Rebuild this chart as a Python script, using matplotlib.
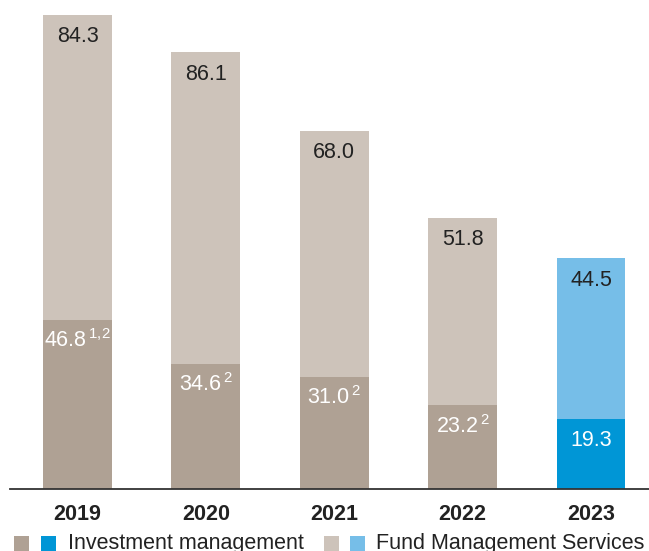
import matplotlib.pyplot as plt
from matplotlib.patches import Rectangle

plt.rcParams['font.family'] = ['Liberation Sans', 'DejaVu Sans']
plt.rcParams['mathtext.fontset'] = 'custom'
plt.rcParams['mathtext.rm'] = 'Liberation Sans'

years = ["2019", "2020", "2021", "2022", "2023"]
bottom_vals = [46.8, 34.6, 31.0, 23.2, 19.3]
top_vals = [84.3, 86.1, 68.0, 51.8, 44.5]
bottom_notes = ["1{,}2", "2", "2", "2", ""]

brown = "#AFA194"
beige = "#CDC3BA"
blue = "#0096D6"
light_blue = "#76BEE8"

bottom_colors = [brown] * 4 + [blue]
top_colors = [beige] * 4 + [light_blue]

fig = plt.figure(figsize=(6.49, 5.51), dpi=100)
ax = fig.add_axes([10 / 649, 1 - 489 / 551, 1 - 10 / 649, 489 / 551])

x = list(range(len(years)))
ax.bar(x, bottom_vals, width=0.537, color=bottom_colors, linewidth=0)
ax.bar(x, top_vals, width=0.537, bottom=bottom_vals, color=top_colors, linewidth=0)

for i in x:
    b = bottom_vals[i]
    t = top_vals[i]
    if bottom_notes[i]:
        lab = "%.1f$^{\\,%s}$" % (b, bottom_notes[i])
    else:
        lab = "%.1f" % b
    ax.annotate(lab, (i, b), xytext=(0, -21), textcoords="offset pixels",
                ha="center", va="center", color="white", fontsize=15.5)
    ax.annotate("%.1f" % t, (i, b + t), xytext=(0, -22), textcoords="offset pixels",
                ha="center", va="center", color="#222222", fontsize=15.5)

ax.set_xlim(-0.526, 4.452)
ax.set_ylim(0, 135.2)
ax.set_xticks(x)
ax.set_xticklabels(years, fontsize=15.5, fontweight="bold", color="#222222")
ax.tick_params(axis="x", length=0, pad=11)
ax.set_yticks([])
for s in ["top", "right", "left"]:
    ax.spines[s].set_visible(False)
ax.spines["bottom"].set_color("#333333")
ax.spines["bottom"].set_linewidth(1.3)

# legend drawn by hand
W, H = 649.0, 551.0
def sq(px, color):
    fig.add_artist(Rectangle((px / W, 1 - 551 / H), 15 / W, 15 / H,
                             transform=fig.transFigure, color=color, lw=0))
sq(14, brown)
sq(41, blue)
fig.text(68 / W, 1 - 543 / H, "Investment management", fontsize=15.5,
         va="center", ha="left", color="#222222")
sq(324, beige)
sq(350, light_blue)
fig.text(376 / W, 1 - 543 / H, "Fund Management Services", fontsize=15.5,
         va="center", ha="left", color="#222222")

fig.savefig("out.png", dpi=100)
